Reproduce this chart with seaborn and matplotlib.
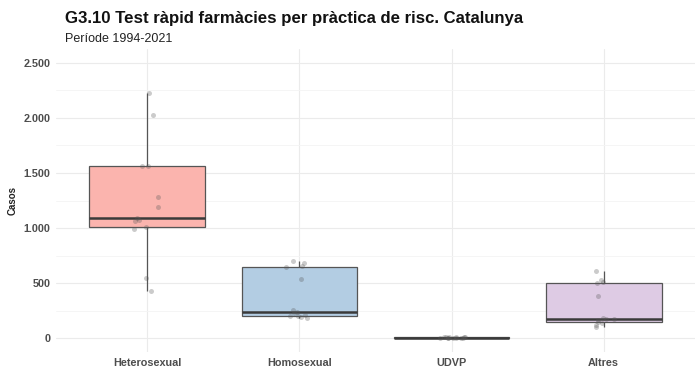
import numpy as np
import pandas as pd
import matplotlib
matplotlib.use("Agg")
import matplotlib.pyplot as plt
from matplotlib.ticker import FuncFormatter, MultipleLocator
import seaborn as sns

categories = ["Heterosexual", "Homosexual", "UDVP", "Altres"]

heterosexual = [2230, 2030, 1565, 1560, 1285, 1190, 1090, 1070, 1060, 1005, 995, 545, 427]
homosexual = [700, 680, 660, 650, 535, 260, 240, 230, 215, 205, 200, 195, 185]
udvp = [14, 12, 10, 9, 8, 7, 6, 5, 5, 4, 3, 2, 1]
altres = [609, 527, 512, 505, 385, 185, 173, 170, 165, 145, 136, 118, 103]

palette = ["#FBB4AE", "#B3CDE3", "#CCEBC5", "#DECBE4"]

df = pd.DataFrame({
    "grup": np.repeat(categories, [len(heterosexual), len(homosexual), len(udvp), len(altres)]),
    "casos": heterosexual + homosexual + udvp + altres,
})

sns.set_theme(style="whitegrid")
plt.rcParams["font.family"] = ["Liberation Sans", "DejaVu Sans"]

fig = plt.figure(figsize=(6.96, 3.74), dpi=100)
ax = fig.add_axes([56 / 696, 1 - 352 / 374, 639 / 696, 303 / 374])

sns.boxplot(
    data=df, x="grup", y="casos", hue="grup", order=categories,
    palette=palette, saturation=1, width=0.76, whis=1.5, fliersize=0, ax=ax,
    linewidth=0.9, linecolor="#555555", legend=False, showcaps=False,
    medianprops=dict(linewidth=1.8, color="#3a3a3a"),
)
np.random.seed(3)
sns.stripplot(
    data=df, x="grup", y="casos", order=categories, color="#555555",
    alpha=0.3, size=3.6, jitter=0.09, ax=ax, zorder=5,
)

ax.set_xlim(-0.6, 3.6)
ax.set_ylim(-125, 2625)
ax.yaxis.set_major_locator(MultipleLocator(500))
ax.yaxis.set_minor_locator(MultipleLocator(250))
ax.yaxis.set_major_formatter(FuncFormatter(lambda v, p: f"{int(v):,}".replace(",", ".")))
ax.grid(which="major", color="#EBEBEB", linewidth=0.8)
ax.grid(which="minor", axis="y", color="#F4F4F4", linewidth=0.6)
ax.set_axisbelow(True)
for s in ax.spines.values():
    s.set_visible(False)

ax.tick_params(axis="both", length=0, pad=4, labelsize=7.8, labelcolor="#4D4D4D")
for lab in ax.get_xticklabels():
    lab.set_fontweight("bold")
for lab in ax.get_yticklabels():
    lab.set_fontweight("bold")
ax.set_xlabel("")
ax.set_ylabel("Casos", fontsize=7, fontweight="bold", color="#222222", labelpad=4)

fig.text(65 / 696, 1 - 23 / 374, "G3.10 Test ràpid farmàcies per pràctica de risc. Catalunya",
         fontsize=12.1, fontweight="bold", color="#111111", va="baseline", ha="left")
fig.text(65 / 696, 1 - 42 / 374, "Període 1994-2021",
         fontsize=9, color="#222222", va="baseline", ha="left")

fig.savefig("out.png", dpi=100)
